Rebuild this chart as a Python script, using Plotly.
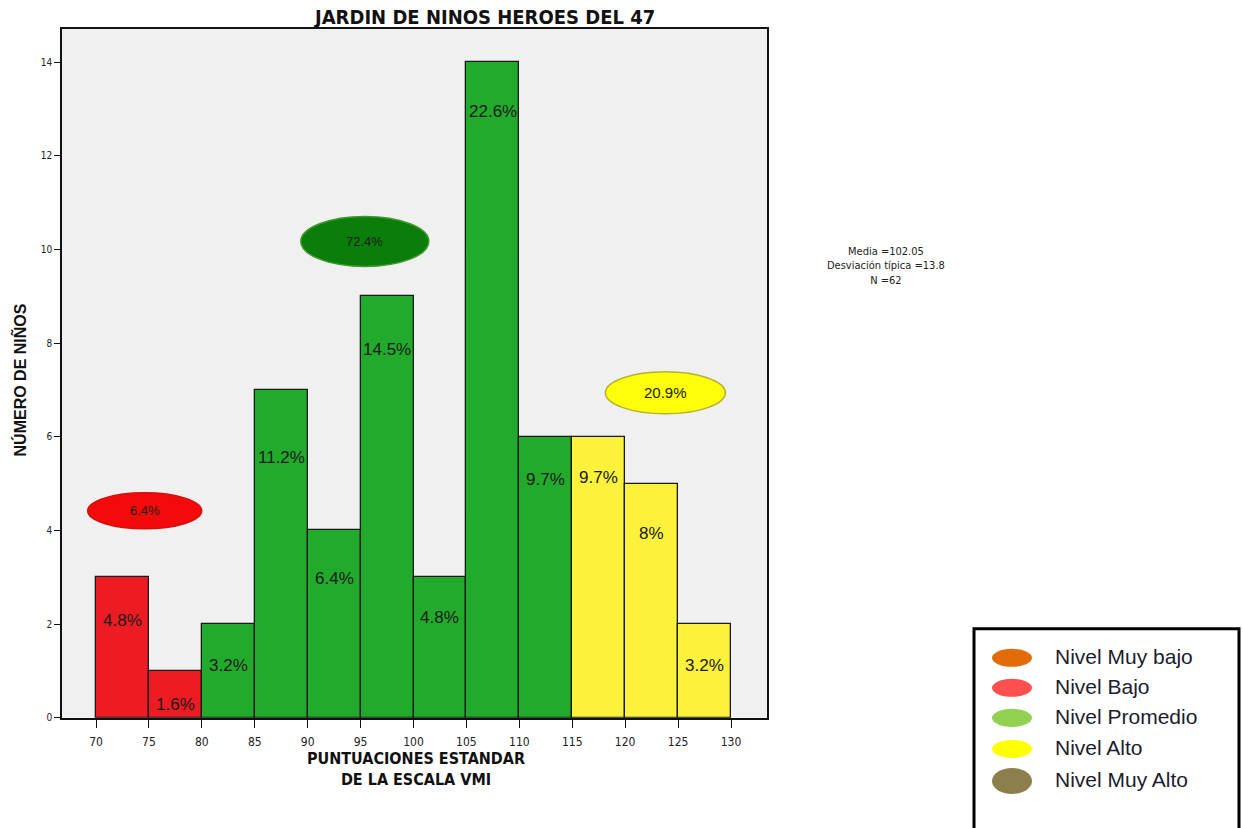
import plotly.graph_objects as go

# --- data -------------------------------------------------------------
bin_edges = [70, 75, 80, 85, 90, 95, 100, 105, 110, 115, 120, 125, 130]
counts = [3, 1, 2, 7, 4, 9, 3, 14, 6, 6, 5, 2]
pct_labels = [4.8, 1.6, 3.2, 11.2, 6.4, 14.5, 4.8, 22.6, 9.7, 9.7, 8, 3.2]
bin_level = ["Bajo", "Bajo", "Promedio", "Promedio", "Promedio", "Promedio",
             "Promedio", "Promedio", "Promedio", "Alto", "Alto", "Alto"]
y_ticks = [0, 2, 4, 6, 8, 10, 12, 14]
x_ticks = [70, 75, 80, 85, 90, 95, 100, 105, 110, 115, 120, 125, 130]

stats_lines = ["Media =102.05", "Desviación típica =13.8", "N =62"]
legend_labels = ["Nivel Muy bajo", "Nivel Bajo", "Nivel Promedio",
                 "Nivel Alto", "Nivel Muy Alto"]

# --- styling ----------------------------------------------------------
bar_colors = {"Bajo": "#ED1C24", "Promedio": "#22AA2D", "Alto": "#FCF23C"}
bubble_fill = {"Bajo": "#F40A0A", "Promedio": "#0B7D0B", "Alto": "#FFFF0A"}
bubble_line = {"Bajo": "#D01010", "Promedio": "#3C9A2A", "Alto": "#B8B030"}
legend_colors = ["#E36C0A", "#FF5050", "#92D050", "#FFFF00", "#8C7F4C"]

# pixel drop of each bar label below the bar top
label_drop_px = [43, 33, 41, 68, 48, 53, 40, 49, 43, 41, 50, 41]
# group bubble anchors (data units), half sizes (px) and font size
bubble_pos = {"Bajo": (74.6, 4.42, 57, 18, 13),
              "Promedio": (95.4, 10.17, 64, 25, 13),
              "Alto": (123.8, 6.94, 60, 21, 15)}

W, H = 1243, 828
HY = 822  # effective drawing height used for vertical placement
PL, PR, PT, PB = 62, 767, 29, 717  # plot frame in px


def fx(px):
    return px / W


def fy(py):
    return 1 - py / HY


centers = [(bin_edges[i] + bin_edges[i + 1]) / 2 for i in range(len(counts))]
widths = [bin_edges[i + 1] - bin_edges[i] for i in range(len(counts))]

fig = go.Figure()
fig.add_trace(go.Bar(
    x=centers, y=counts, width=widths,
    marker=dict(color=[bar_colors[l] for l in bin_level],
                line=dict(color="#1a1a1a", width=1.3)),
    hoverinfo="skip", showlegend=False,
))

ann = []
shapes = []

# percentage label inside each bar
for cx, c, p, d in zip(centers, counts, pct_labels, label_drop_px):
    ann.append(dict(x=cx, y=c, xref="x", yref="y", yshift=-d,
                    text=f"{p:g}%", showarrow=False,
                    xanchor="center", yanchor="middle",
                    font=dict(family="Liberation Sans, Arial", size=17,
                              color="#1a1a1a")))

# group percentage bubbles
for lvl, (bx, by, hw, hh, fs) in bubble_pos.items():
    total = sum(p for p, l in zip(pct_labels, bin_level) if l == lvl)
    shapes.append(dict(type="circle", xref="x", yref="y",
                       xsizemode="pixel", ysizemode="pixel",
                       xanchor=bx, yanchor=by,
                       x0=-hw, x1=hw, y0=-hh, y1=hh,
                       fillcolor=bubble_fill[lvl],
                       line=dict(color=bubble_line[lvl], width=1.5)))
    ann.append(dict(x=bx, y=by, xref="x", yref="y", text=f"{total:.1f}%",
                    showarrow=False, xanchor="center", yanchor="middle",
                    font=dict(family="Liberation Sans, Arial", size=fs,
                              color="#1a1a1a")))

# title and axis titles
narrow = "Liberation Sans Narrow, Arial Narrow, DejaVu Sans Condensed"
ann.append(dict(x=fx(484), y=fy(17), xref="paper", yref="paper",
                xanchor="center", yanchor="middle",
                text="<b>JARDIN DE NINOS HEROES DEL 47</b>", showarrow=False,
                font=dict(family=narrow, size=20, color="#111")))
ann.append(dict(x=fx(416), y=fy(768), xref="paper", yref="paper",
                xanchor="center", yanchor="middle",
                text="<b>PUNTUACIONES ESTANDAR<br>DE LA ESCALA VMI</b>",
                showarrow=False, font=dict(family=narrow, size=16, color="#111")))
ann.append(dict(x=fx(19), y=fy(380), xref="paper", yref="paper",
                xanchor="center", yanchor="middle",
                text="<b>NÚMERO DE NIÑOS</b>", textangle=-90, showarrow=False,
                font=dict(family="Liberation Sans, Arial", size=16, color="#111")))

# summary statistics
ann.append(dict(x=fx(886), y=fy(266), xref="paper", yref="paper",
                xanchor="center", yanchor="middle",
                text="<br>".join(stats_lines), showarrow=False,
                font=dict(family=narrow, size=11, color="#222")))

# legend box
shapes.append(dict(type="rect", xref="paper", yref="paper",
                   x0=fx(974), x1=fx(1239), y0=-0.01, y1=fy(628),
                   line=dict(color="#000", width=3), fillcolor="white"))
leg_y = [657, 687, 717, 748, 780]
leg_h = [9, 9, 9, 9, 13]
for lab, col, yy, hh in zip(legend_labels, legend_colors, leg_y, leg_h):
    shapes.append(dict(type="circle", xref="paper", yref="paper",
                       x0=fx(992), x1=fx(1032),
                       y0=fy(yy + hh), y1=fy(yy - hh),
                       fillcolor=col, line=dict(width=0)))
    ann.append(dict(x=fx(1053), y=fy(yy - 1), xref="paper", yref="paper",
                    text=lab, showarrow=False, xanchor="left", yanchor="middle",
                    font=dict(family="Liberation Sans, Arial", size=21,
                              color="#1c1c2c")))

px_per_x = (731 - 96) / 60
px_per_y = (717 - 62) / 14

fig.update_layout(
    width=W, height=H, margin=dict(l=0, r=0, t=0, b=0),
    paper_bgcolor="white", plot_bgcolor="#F0F0F0",
    bargap=0, showlegend=False,
    annotations=ann, shapes=shapes,
    xaxis=dict(domain=[fx(PL), fx(PR)],
               range=[70 - (96 - PL) / px_per_x, 130 + (PR - 731) / px_per_x],
               tickvals=x_ticks, ticks="outside", ticklen=8, tickwidth=1.3,
               tickcolor="#111", showgrid=False, zeroline=False,
               showline=True, linecolor="#111", linewidth=1.6, mirror=True,
               ticklabelstandoff=4,
               tickfont=dict(family=narrow, size=12, color="#222")),
    yaxis=dict(domain=[fy(PB), fy(PT)],
               range=[0, (PB - PT) / px_per_y],
               tickvals=y_ticks, ticks="outside", ticklen=6, tickwidth=1.3,
               tickcolor="#111", showgrid=False, zeroline=False,
               showline=True, linecolor="#111", linewidth=1.6, mirror=True,
               tickfont=dict(family=narrow, size=10, color="#222")),
)

fig.write_html("out.html")
